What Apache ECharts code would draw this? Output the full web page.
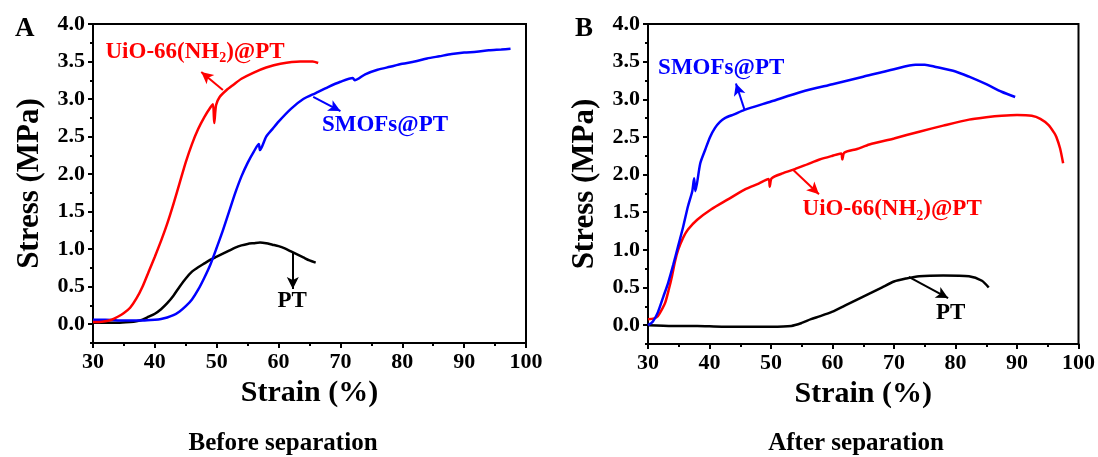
<!DOCTYPE html>
<html>
<head>
<meta charset="utf-8">
<script src="https://cdn.jsdelivr.net/npm/echarts@6/dist/echarts.min.js"></script>
<style>
  html, body { margin: 0; padding: 0; background: #fff; }
  #main { width: 1098px; height: 457px; }
</style>
</head>
<body>
<div id="main"></div>
<script>
// tick labels
const xTicks = [30, 40, 50, 60, 70, 80, 90, 100];
const yTicks = [0, 0.5, 1.0, 1.5, 2.0, 2.5, 3.0, 3.5, 4.0];
const yMinorTicks = [-0.25, 0.25, 0.75, 1.25, 1.75, 2.25, 2.75, 3.25, 3.75];

// A: before separation
const beforeUioStrain = [30, 31, 32, 33, 34, 35, 36, 37, 38, 39, 40, 41, 42, 43, 44, 45, 46, 47, 48, 49, 49.4, 49.6, 49.9, 50.5, 51.6, 52.7, 54, 55.9, 58, 60.3, 63.5, 65.5, 66.4];
const beforeUioStress = [0.03, 0.03, 0.04, 0.06, 0.10, 0.15, 0.22, 0.34, 0.50, 0.70, 0.90, 1.11, 1.34, 1.60, 1.88, 2.16, 2.40, 2.60, 2.76, 2.89, 2.93, 2.68, 2.92, 3.03, 3.12, 3.19, 3.27, 3.35, 3.42, 3.47, 3.50, 3.50, 3.48];

const beforeSmofStrain = [30, 32, 34, 36, 38, 40, 41, 42, 43, 44, 45, 46, 47, 48, 49, 50, 51, 52, 53, 54, 55, 56, 56.8, 57, 58, 59, 60, 62, 64, 66, 68, 70, 72, 72.3, 74, 76, 78, 80, 82, 84, 86, 88, 90, 92, 94, 96, 97.5];
const beforeSmofStress = [0.06, 0.06, 0.05, 0.05, 0.05, 0.06, 0.07, 0.09, 0.12, 0.17, 0.24, 0.33, 0.46, 0.62, 0.80, 1.02, 1.25, 1.50, 1.75, 1.97, 2.15, 2.30, 2.40, 2.32, 2.50, 2.60, 2.70, 2.87, 3.00, 3.08, 3.16, 3.23, 3.28, 3.25, 3.33, 3.39, 3.43, 3.47, 3.50, 3.54, 3.57, 3.60, 3.62, 3.63, 3.65, 3.66, 3.67];

const beforePtStrain = [30, 32, 34, 36, 37, 38, 39, 40, 41, 42, 43, 44, 45, 46, 47, 48, 49, 50, 51, 52, 53, 54, 55, 56, 57, 58, 59, 60, 61, 62, 63, 64, 65, 66];
const beforePtStress = [0.02, 0.02, 0.02, 0.03, 0.04, 0.06, 0.10, 0.14, 0.20, 0.28, 0.38, 0.50, 0.61, 0.70, 0.76, 0.81, 0.86, 0.90, 0.94, 0.98, 1.02, 1.05, 1.07, 1.08, 1.09, 1.08, 1.06, 1.04, 1.01, 0.97, 0.93, 0.89, 0.85, 0.82];

// B: after separation
const afterSmofStrain = [30, 30.8, 31.6, 32.5, 33.3, 34.1, 34.9, 35.7, 36.5, 37.2, 37.5, 37.7, 38.5, 39.3, 40.1, 40.9, 41.7, 42.5, 44, 45.7, 50, 55, 60, 65, 70, 73.5, 75, 76.8, 80, 82.2, 85, 87.5, 89.7];
const afterSmofStress = [0.00, 0.05, 0.17, 0.38, 0.57, 0.80, 1.05, 1.30, 1.58, 1.78, 1.95, 1.78, 2.15, 2.33, 2.50, 2.62, 2.70, 2.75, 2.80, 2.86, 2.97, 3.10, 3.20, 3.30, 3.40, 3.46, 3.46, 3.43, 3.37, 3.30, 3.20, 3.10, 3.03];

const afterUioStrain = [30, 31, 31.6, 32.2, 32.8, 33.4, 33.9, 34.4, 34.9, 35.7, 36.5, 38, 40.3, 43, 45.7, 48, 49.6, 49.8, 50.1, 52, 53.8, 56, 57.9, 60, 61.4, 61.6, 61.9, 64, 66, 70, 74.1, 78, 82.2, 85, 87.5, 90, 92.4, 93.8, 95.1, 96, 96.4, 97, 97.5];
const afterUioStress = [0.08, 0.09, 0.12, 0.20, 0.30, 0.48, 0.65, 0.85, 1.00, 1.16, 1.27, 1.40, 1.54, 1.67, 1.80, 1.88, 1.94, 1.84, 1.95, 2.02, 2.07, 2.14, 2.20, 2.25, 2.28, 2.20, 2.29, 2.34, 2.40, 2.48, 2.57, 2.65, 2.73, 2.76, 2.78, 2.79, 2.78, 2.74, 2.66, 2.56, 2.50, 2.35, 2.15];

const afterPtStrain = [30, 34, 38, 42, 46, 50, 53.3, 55, 56.5, 58, 60, 62, 64, 66, 68, 70, 72, 74.1, 78, 82.2, 84.3, 85.4];
const afterPtStress = [0.00, -0.01, -0.01, -0.02, -0.02, -0.02, -0.01, 0.03, 0.08, 0.12, 0.18, 0.26, 0.34, 0.42, 0.50, 0.58, 0.62, 0.65, 0.66, 0.65, 0.59, 0.50];

const RED = '#ff0000';
const BLUE = '#0000ff';
const BLACK = '#000000';
const FONT = "'Liberation Serif', 'Times New Roman', serif";

const myChart = echarts.init(document.getElementById('main'), null, { renderer: 'canvas' });

function pairs(xs, ys) {
  return xs.map((x, i) => [x, ys[i]]);
}

function xAxisFor(gridIndex) {
  return {
    gridIndex: gridIndex,
    type: 'value',
    min: 30,
    max: 100,
    interval: 10,
    name: 'Strain (%)',
    nameLocation: 'middle',
    nameGap: 29,
    nameTextStyle: { fontFamily: FONT, fontWeight: 'bold', fontSize: 30, color: '#000' },
    axisLine: { onZero: false, lineStyle: { color: '#000', width: 2 } },
    axisTick: { show: true, length: 5, lineStyle: { color: '#000', width: 2 } },
    minorTick: { show: true, splitNumber: 2, length: 3, lineStyle: { color: '#000', width: 2 } },
    axisLabel: {
      customValues: xTicks,
      margin: 8,
      fontFamily: FONT, fontWeight: 'bold', fontSize: 22, color: '#000',
    },
    splitLine: { show: false },
  };
}

function yAxesFor(gridIndex) {
  return [
    {
      gridIndex: gridIndex,
      type: 'value',
      position: 'left',
      min: -0.25,
      max: 4.0,
      name: 'Stress (MPa)',
      nameLocation: 'middle',
      nameGap: 48,
      nameTextStyle: { fontFamily: FONT, fontWeight: 'bold', fontSize: 31, color: '#000' },
      axisLine: { onZero: false, lineStyle: { color: '#000', width: 2 } },
      axisTick: { show: true, customValues: yTicks, length: 5, lineStyle: { color: '#000', width: 2 } },
      axisLabel: {
        customValues: yTicks,
        margin: 8,
        formatter: (v) => v.toFixed(1),
        fontFamily: FONT, fontWeight: 'bold', fontSize: 22, color: '#000',
      },
      splitLine: { show: false },
    },
    {
      // minor ticks only
      gridIndex: gridIndex,
      type: 'value',
      min: -0.25,
      max: 4.0,
      position: 'left',
      axisLine: { show: false, onZero: false },
      axisTick: { show: true, customValues: yMinorTicks, length: 3, lineStyle: { color: '#000', width: 2 } },
      axisLabel: { show: false },
      splitLine: { show: false },
    },
  ];
}

function arrow(color, from, to) {
  return {
    silent: true,
    symbol: ['none', 'arrow'],
    symbolSize: [9, 12],
    label: { show: false },
    lineStyle: { color: color, width: 2, type: 'solid' },
    emphasis: { disabled: true },
    data: [[{ coord: from }, { coord: to }]],
  };
}

function tag(color, text, at) {
  return {
    silent: true,
    symbol: 'circle',
    symbolSize: 0,
    label: {
      show: true,
      position: 'inside',
      formatter: text,
      color: color,
      fontFamily: FONT,
      fontWeight: 'bold',
      fontSize: 23,
      rich: {
        sub: { fontFamily: FONT, fontWeight: 'bold', fontSize: 14, color: color, padding: [14, 0, 0, 0] },
      },
    },
    data: [{ coord: at }],
  };
}

function line(name, color, xi, yi, data, markLine, markPoint) {
  return {
    name: name,
    type: 'line',
    xAxisIndex: xi,
    yAxisIndex: yi,
    data: data,
    showSymbol: false,
    smooth: 0.25,
    lineStyle: { color: color, width: 2.5 },
    itemStyle: { color: color },
    markLine: markLine,
    markPoint: markPoint,
    z: 3,
  };
}

const uioText = 'UiO-66(NH{sub|2})@PT';

const option = {
  animation: false,
  backgroundColor: '#fff',
  title: [
    { text: 'A', left: 10, top: 11, textStyle: { fontFamily: FONT, fontWeight: 'bold', fontSize: 27, color: '#000' } },
    { text: 'B', left: 570, top: 11, textStyle: { fontFamily: FONT, fontWeight: 'bold', fontSize: 27, color: '#000' } },
    { text: 'Before separation', left: 278, top: 426, textAlign: 'center', textStyle: { fontFamily: FONT, fontWeight: 'bold', fontSize: 25, color: '#000' } },
    { text: 'After separation', left: 851, top: 426, textAlign: 'center', textStyle: { fontFamily: FONT, fontWeight: 'bold', fontSize: 25, color: '#000' } },
  ],
  grid: [
    { left: 93, top: 24, width: 433, height: 319, show: true, borderColor: '#000', borderWidth: 2, backgroundColor: 'transparent' },
    { left: 648, top: 24, width: 432, height: 320, show: true, borderColor: '#000', borderWidth: 2, backgroundColor: 'transparent' },
  ],
  xAxis: [xAxisFor(0), xAxisFor(1)],
  yAxis: [...yAxesFor(0), ...yAxesFor(1)],
  series: [
    line('PT', BLACK, 0, 0, pairs(beforePtStrain, beforePtStress),
      arrow(BLACK, [62.3, 0.95], [62.3, 0.47]), tag(BLACK, 'PT', [62.2, 0.31])),
    line('SMOFs@PT', BLUE, 0, 0, pairs(beforeSmofStrain, beforeSmofStress),
      arrow(BLUE, [65.6, 3.03], [70.0, 2.84]), tag(BLUE, 'SMOFs@PT', [77.2, 2.65])),
    line('UiO-66(NH2)@PT', RED, 0, 0, pairs(beforeUioStrain, beforeUioStress),
      arrow(RED, [51.0, 3.12], [47.5, 3.36]), tag(RED, uioText, [46.5, 3.63])),

    line('PT', BLACK, 1, 2, pairs(afterPtStrain, afterPtStress),
      arrow(BLACK, [72.4, 0.64], [78.8, 0.36]), tag(BLACK, 'PT', [79.2, 0.16])),
    line('UiO-66(NH2)@PT', RED, 1, 2, pairs(afterUioStrain, afterUioStress),
      arrow(RED, [53.5, 2.07], [57.8, 1.74]), tag(RED, uioText, [69.7, 1.54])),
    line('SMOFs@PT', BLUE, 1, 2, pairs(afterSmofStrain, afterSmofStress),
      arrow(BLUE, [45.7, 2.86], [44.3, 3.21]), tag(BLUE, 'SMOFs@PT', [41.9, 3.42])),
  ],
};

myChart.setOption(option);
window.addEventListener('resize', myChart.resize);
</script>
</body>
</html>
